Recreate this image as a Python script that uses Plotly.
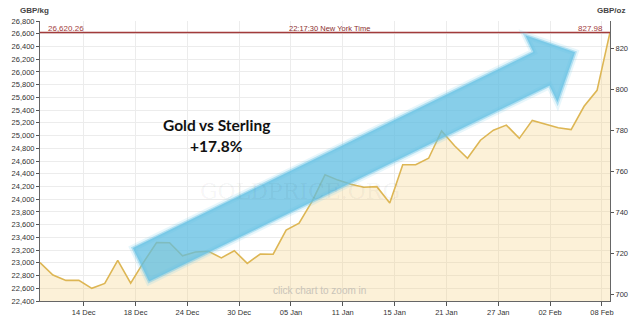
import math
import plotly.graph_objects as go

OZ_PER_KG = 32.1507466

# Trading days (weekdays) shown on the chart
dates = [
    "2015-12-08", "2015-12-09", "2015-12-10", "2015-12-11",
    "2015-12-14", "2015-12-15", "2015-12-16", "2015-12-17", "2015-12-18",
    "2015-12-21", "2015-12-22", "2015-12-23", "2015-12-24", "2015-12-25",
    "2015-12-28", "2015-12-29", "2015-12-30", "2015-12-31", "2016-01-01",
    "2016-01-04", "2016-01-05", "2016-01-06", "2016-01-07", "2016-01-08",
    "2016-01-11", "2016-01-12", "2016-01-13", "2016-01-14", "2016-01-15",
    "2016-01-18", "2016-01-19", "2016-01-20", "2016-01-21", "2016-01-22",
    "2016-01-25", "2016-01-26", "2016-01-27", "2016-01-28", "2016-01-29",
    "2016-02-01", "2016-02-02", "2016-02-03", "2016-02-04", "2016-02-05",
    "2016-02-08",
]
FIX_TIME = " 15:00"

# Gold price in GBP per troy ounce
price_oz = [
    715.5, 709.4, 706.8, 706.8,
    702.9, 705.3, 716.6, 705.4, 715.7,
    725.3, 725.2, 718.8, 720.7, 721.0,
    717.8, 721.3, 715.1, 719.7, 719.6,
    731.4, 734.8, 745.4, 758.4, 755.8,
    753.8, 752.3, 752.6, 744.6, 763.3,
    763.3, 766.5, 779.8, 772.6, 766.5,
    775.3, 780.2, 782.7, 776.2, 785.0,
    783.3, 781.4, 780.5, 791.9, 799.7,
    827.98,
]

tick_dates = ["2015-12-14", "2015-12-18", "2015-12-24", "2015-12-30", "2016-01-05",
              "2016-01-11", "2016-01-15", "2016-01-21", "2016-01-27", "2016-02-02",
              "2016-02-08"]
tick_text = ["14 Dec", "18 Dec", "24 Dec", "30 Dec", "05 Jan", "11 Jan", "15 Jan",
             "21 Jan", "27 Jan", "02 Feb", "08 Feb"]

kg_min, kg_max = 22400, 26800
current_kg_label = "26,620.26"
current_oz_label = "827.98"
time_label = "22:17:30 New York Time"

x = [d + FIX_TIME for d in dates]
price_kg = [v * OZ_PER_KG for v in price_oz]

W, H = 640, 329
L, R, T, B = 32, 21, 21, 22
PW, PH = W - L - R, H - T - B


def px(xp):
    return (xp - L) / PW


def py(yp):
    return 1 - (yp - T) / PH


fig = go.Figure()
fig.add_trace(go.Scatter(
    x=x, y=price_kg, yaxis="y", mode="lines",
    line=dict(width=0, color="rgba(0,0,0,0)"),
    fill="tozeroy", fillcolor="rgba(245,200,100,0.25)",
    hoverinfo="skip", showlegend=False,
))
fig.add_trace(go.Scatter(
    x=x, y=price_oz, yaxis="y2", mode="lines",
    line=dict(width=1.6, color="#DDB654"),
    showlegend=False,
))

# Decorative arrow (rotated frame)
ox, oy = 136, 270
tipx, tipy = 583, 53
ang = math.atan2(tipy - oy, tipx - ox)
ux, uy = math.cos(ang), math.sin(ang)
nx, ny = -uy, ux
length = math.hypot(tipx - ox, tipy - oy)
hb = length - 38.5
frame = [(0, -19), (hb, -19), (hb, -38), (length, 0), (hb, 38), (hb, 19), (0, 19)]
pts = [(ox + u * ux + n * nx, oy + u * uy + n * ny) for u, n in frame]
path = "M " + " L ".join(f"{px(a):.4f},{py(b):.4f}" for a, b in pts) + " Z"

shapes = [
    dict(type="line", xref="paper", x0=0, x1=1, yref="y2",
         y0=price_oz[-1], y1=price_oz[-1],
         line=dict(color="#A23B3B", width=1.6), layer="above"),
    dict(type="path", xref="paper", yref="paper", path=path,
         fillcolor="rgba(0,0,0,0)", line=dict(color="rgba(120,205,235,0.18)", width=7),
         layer="above"),
    dict(type="path", xref="paper", yref="paper", path=path,
         fillcolor="rgba(95,190,225,0.75)", line=dict(color="rgba(110,198,230,0.45)", width=3),
         layer="above"),
]

font_tick = dict(family="Liberation Sans, Arial, sans-serif", size=7.5, color="#333333")


def ann(text, xp, yp, size, color, family="Liberation Sans, Arial", xanchor="center"):
    return dict(text=text, xref="paper", yref="paper", x=px(xp), y=py(yp),
                xanchor=xanchor, yanchor="middle", showarrow=False,
                font=dict(family=family, size=size, color=color))


annotations = [
    ann("<b>GBP/kg</b>", 26, 10, 8, "#444"),
    ann("<b>GBP/oz</b>", 620, 10, 8, "#444"),
    ann(current_kg_label, 38, 28.5, 8, "#A23B3B", xanchor="left"),
    ann(current_oz_label, 614, 28.5, 8, "#A23B3B", xanchor="right"),
    ann(time_label, 330, 28.5, 7.5, "#8B2E2E"),
    ann("GOLDPRICE.ORG", 300, 195, 22, "rgba(0,0,0,0.05)", family="DejaVu Serif, serif"),
    ann("click chart to zoom in", 320, 296, 10, "#C9C4B8"),
    ann("<b>Gold vs Sterling</b>", 214, 127, 15.5, "#111", family="Lato, sans-serif"),
    ann("<b>+17.8%</b>", 214, 149, 15.5, "#111", family="Lato, sans-serif"),
]

fig.update_layout(
    width=W, height=H,
    margin=dict(l=L, r=R, t=T, b=B, pad=0),
    paper_bgcolor="white", plot_bgcolor="white",
    showlegend=False,
    shapes=shapes,
    annotations=annotations,
    xaxis=dict(
        type="date",
        rangebreaks=[dict(bounds=["sat", "mon"])],
        range=[x[0], x[-1]],
        tickvals=tick_dates, ticktext=tick_text,
        ticks="outside", ticklen=4, tickcolor="#555",
        showgrid=True, gridcolor="#ECECEC", gridwidth=1,
        showline=True, linecolor="#666", linewidth=1,
        tickfont=dict(family="Liberation Sans, Arial", size=7.5, color="#333"),
        zeroline=False,
    ),
    yaxis=dict(
        range=[kg_min, kg_max], tick0=kg_min, dtick=200, tickformat=",d",
        ticks="outside", ticklen=3, tickcolor="#555",
        showgrid=True, gridcolor="#ECECEC", gridwidth=1,
        showline=True, linecolor="#666", linewidth=1,
        tickfont=font_tick, zeroline=False,
    ),
    yaxis2=dict(
        overlaying="y", side="right",
        range=[kg_min / OZ_PER_KG, kg_max / OZ_PER_KG], tick0=700, dtick=20,
        ticks="outside", ticklen=3, tickcolor="#555",
        showgrid=False, showline=True, linecolor="#666", linewidth=1,
        tickfont=font_tick, zeroline=False,
    ),
)

fig.write_html("out.html")
